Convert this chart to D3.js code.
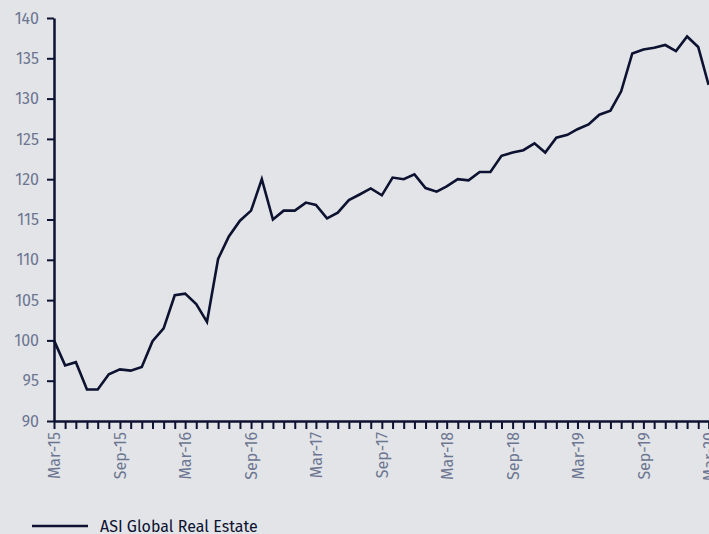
<!DOCTYPE html>
<html><head><meta charset="utf-8">
<script src="https://cdn.jsdelivr.net/npm/d3@7"></script>
<style>
html,body{margin:0;padding:0;background:#e3e4e8;}
svg{display:block;}
</style></head>
<body>
<svg id="chart" width="709" height="534"></svg>
<script>
const seriesName = "ASI Global Real Estate";
const startMonth = "2015-03";
const values = [
  100.0, 96.9, 97.3, 93.9, 93.9, 95.8, 96.4, 96.25, 96.7, 99.9,
  101.5, 105.6, 105.8, 104.5, 102.3, 110.1, 112.9, 114.85, 116.1, 120.0,
  115.0, 116.1, 116.1, 117.1, 116.8, 115.15, 115.85, 117.4, 118.1, 118.85,
  118.0, 120.2, 120.0, 120.6, 118.9, 118.45, 119.1, 120.0, 119.85, 120.9,
  120.9, 122.9, 123.3, 123.6, 124.45, 123.3, 125.15, 125.5, 126.2, 126.8,
  128.0, 128.5, 130.9, 135.6, 136.1, 136.3, 136.65, 135.9, 137.7, 136.4,
  131.7
];
const yTicks = [90, 95, 100, 105, 110, 115, 120, 125, 130, 135, 140];
const xLabelMonths = ["Mar-15","Sep-15","Mar-16","Sep-16","Mar-17","Sep-17","Mar-18","Sep-18","Mar-19","Sep-19","Mar-20"];

const parse = d3.timeParse("%Y-%m");
const start = parse(startMonth);
const data = values.map((v, i) => ({date: d3.timeMonth.offset(start, i), value: v}));
const fmt = d3.timeFormat("%b-%y");

const svg = d3.select("#chart");
const font = "'Fira Sans','Lato','Open Sans',sans-serif";
const textCol = "#6c7691";
const dark = "#0c1230";

const x = d3.scaleTime()
  .domain([start, d3.timeMonth.offset(start, 60)])
  .range([54, 708.6]);
const y = d3.scaleLinear().domain([90, 140]).range([421, 18]);

// Y axis
const yAxis = svg.append("g").attr("transform", "translate(54,0)")
  .call(d3.axisLeft(y).tickValues(yTicks).tickSize(7).tickPadding(8).tickSizeOuter(0));
yAxis.select(".domain").attr("stroke", dark).attr("stroke-width", 2.5);
yAxis.selectAll(".tick line").attr("stroke", dark).attr("stroke-width", 2);
yAxis.selectAll("text").attr("fill", textCol).attr("font-family", font).attr("font-size", 16);

// X axis
const monthTicks = d3.timeMonth.range(start, d3.timeMonth.offset(start, 61));
const xAxis = svg.append("g").attr("transform", "translate(0,421)")
  .call(d3.axisBottom(x).tickValues(monthTicks).tickSize(8).tickSizeOuter(0)
    .tickFormat(d => xLabelMonths.includes(fmt(d)) ? fmt(d) : ""));
xAxis.select(".domain").attr("stroke", dark).attr("stroke-width", 2.5);
xAxis.selectAll(".tick line").attr("stroke", dark).attr("stroke-width", 2);
xAxis.selectAll("text")
  .attr("fill", textCol).attr("font-family", font).attr("font-size", 16)
  .attr("text-anchor", "end")
  .attr("transform", "rotate(-90)")
  .attr("x", -11).attr("y", 0).attr("dy", "0.35em");

// Line
const line = d3.line().x(d => x(d.date)).y(d => y(d.value));
svg.append("path").datum(data)
  .attr("fill", "none").attr("stroke", dark).attr("stroke-width", 2.6)
  .attr("stroke-linejoin", "miter").attr("d", line);

// Legend
svg.append("line").attr("x1", 32).attr("x2", 88).attr("y1", 526).attr("y2", 526)
  .attr("stroke", dark).attr("stroke-width", 2.6);
svg.append("text").attr("x", 100).attr("y", 532)
  .attr("fill", dark).attr("font-family", font).attr("font-size", 16)
  .text(seriesName);
</script>
</body></html>
